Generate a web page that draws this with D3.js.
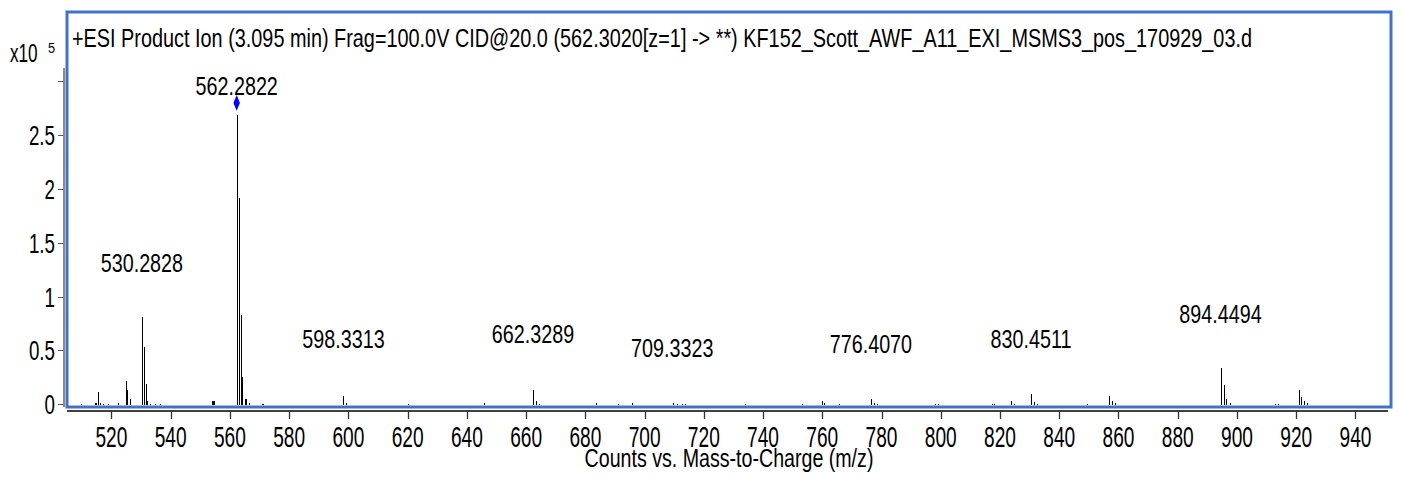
<!DOCTYPE html>
<html lang="en">
<head>
  <meta charset="UTF-8">
  <title>ESI Product Ion spectrum (D3.js)</title>
  <script src="https://d3js.org/d3.v7.min.js"></script>
  <style>
    body {
      background-color: #fff;
      margin: 0;
      padding: 0;
    }
    svg {
      display: block;
      font-family: 'Liberation Sans', Arial, sans-serif;
    }
    .peak {
      stroke: #000;
      stroke-width: 1;
      shape-rendering: crispEdges;
    }
  </style>
</head>
<body>

<svg id="chart" width="1402" height="477"></svg>

<script>
const titleText = "+ESI Product Ion (3.095 min) Frag=100.0V CID@20.0 (562.3020[z=1] -> **) KF152_Scott_AWF_A11_EXI_MSMS3_pos_170929_03.d";
const xTitle = "Counts vs. Mass-to-Charge (m/z)";

// centroid peaks: m/z and counts (x10^5)
const peakMz = [
  509.6, 514.3, 514.7, 515.6, 516.1, 517.0, 519.0, 522.3, 525.05, 525.4, 526.3,
  530.28, 531.1, 531.6, 532.1, 533.0, 534.8, 536.4, 553.9, 554.2, 554.5,
  562.28, 563.19, 563.66, 564.2, 564.94, 565.27, 566.55, 570.8, 571.3,
  598.33, 599.33, 620.0, 645.7, 662.33, 663.33, 664.3, 683.6, 691.0, 695.9,
  709.5, 711.0, 712.5, 713.7, 733.9, 753.3, 759.8, 760.6, 765.7,
  776.41, 777.4, 778.4, 798.2, 798.9, 817.3, 818.1, 823.6, 824.8,
  830.45, 831.45, 832.5, 849.3, 856.7, 857.7, 858.7,
  894.45, 895.45, 896.45, 897.5, 912.9, 913.9, 920.8, 921.7, 922.6, 923.7
];
const peakCounts = [
  0.006, 0.015, 0.015, 0.117, 0.012, 0.005, 0.004, 0.015, 0.216, 0.133, 0.046,
  0.81, 0.53, 0.19, 0.03, 0.005, 0.005, 0.005, 0.03, 0.03, 0.03,
  2.685, 1.91, 0.83, 0.256, 0.046, 0.046, 0.015, 0.005, 0.005,
  0.08, 0.015, 0.003, 0.015, 0.13, 0.028, 0.005, 0.015, 0.005, 0.015,
  0.012, 0.005, 0.005, 0.005, 0.005, 0.005, 0.03, 0.015, 0.005,
  0.045, 0.015, 0.005, 0.005, 0.005, 0.005, 0.005, 0.03, 0.005,
  0.098, 0.02, 0.005, 0.005, 0.08, 0.03, 0.008,
  0.337, 0.18, 0.046, 0.01, 0.005, 0.005, 0.133, 0.065, 0.028, 0.01
];

// annotated peaks and the height (x10^5) where the software put each label
const labelMz = [530.2828, 562.2822, 598.3313, 662.3289, 709.3323, 776.4070, 830.4511, 894.4494];
const labelLevel = [1.227, 2.87, 0.52, 0.566, 0.442, 0.473, 0.52, 0.751];
const precursorMz = 562.2822;

const xTicks = d3.range(520, 941, 20);
const yTicks = [0, 0.5, 1, 1.5, 2, 2.5, 3];
const yTickLabels = ["0", "0.5", "1", "1.5", "2", "2.5", ""];

const svg = d3.select("#chart");

const x = d3.scaleLinear().domain([505, 952]).range([67, 1391]);
const y = d3.scaleLinear().domain([0, 3.12]).range([404.3, 68]);

// squeezed text, the instrument software draws tall narrow glyphs
function label(sel, px, py, sx) {
  return sel.attr("transform", `translate(${px},${py}) scale(${sx},1)`);
}

// y axis
const yAxis = svg.append("g");
yAxis.append("line")
  .attr("x1", 64).attr("x2", 64).attr("y1", 68).attr("y2", 407)
  .attr("stroke", "#8a8a8a").attr("stroke-width", 2);
yTicks.forEach((t, i) => {
  const py = Math.round(y(t)) + 0.5;
  yAxis.append("line")
    .attr("x1", 58).attr("x2", 63).attr("y1", py).attr("y2", py)
    .attr("stroke", "#555");
  label(yAxis.append("text"), 55, y(t) + 10, 0.67)
    .attr("text-anchor", "end")
    .attr("font-size", 28)
    .attr("fill", "#000")
    .text(yTickLabels[i]);
});
label(svg.append("text"), 10, 62, 0.66).attr("font-size", 26).text("x10");
label(svg.append("text"), 48, 53, 0.85).attr("font-size", 15).text("5");

// peaks
svg.append("g").selectAll("line")
  .data(peakMz)
  .join("line")
  .attr("class", "peak")
  .attr("x1", d => Math.round(x(d)) + 0.5)
  .attr("x2", d => Math.round(x(d)) + 0.5)
  .attr("y1", y(0) + 1)
  .attr("y2", (d, i) => y(peakCounts[i]));

// precursor marker
const pi = peakMz.indexOf(562.28);
svg.append("path")
  .attr("d", d3.symbol().type(d3.symbolDiamond).size(70)())
  .attr("transform", `translate(${x(precursorMz)},${y(peakCounts[pi]) - 12}) scale(0.72,1)`)
  .attr("fill", "#0000ff");

// peak labels
labelMz.forEach((m, i) => {
  label(svg.append("text"), x(m), y(labelLevel[i]), 0.79)
    .attr("text-anchor", "middle")
    .attr("font-size", 25)
    .text(m.toFixed(4));
});

// frame
svg.append("rect")
  .attr("x", 67).attr("y", 12)
  .attr("width", 1324).attr("height", 395)
  .attr("fill", "none")
  .attr("stroke", "#4272c8")
  .attr("stroke-width", 3);

svg.append("text")
  .attr("x", 72).attr("y", 47)
  .attr("font-size", 25)
  .attr("textLength", 1180)
  .attr("lengthAdjust", "spacingAndGlyphs")
  .text(titleText);

// x axis
const xAxis = svg.append("g");
xAxis.append("line")
  .attr("x1", 67).attr("x2", 1388).attr("y1", 411).attr("y2", 411)
  .attr("stroke", "#000").attr("stroke-width", 1.5);
xTicks.forEach(t => {
  const px = Math.round(x(t)) + 0.5;
  xAxis.append("line")
    .attr("x1", px).attr("x2", px).attr("y1", 411).attr("y2", 419)
    .attr("stroke", "#333").attr("stroke-width", 1.3);
  label(xAxis.append("text"), x(t), 447, 0.66)
    .attr("text-anchor", "middle")
    .attr("font-size", 29)
    .text(t);
});
label(svg.append("text"), 729, 467, 0.755)
  .attr("text-anchor", "middle")
  .attr("font-size", 26)
  .text(xTitle);
</script>

</body>
</html>
